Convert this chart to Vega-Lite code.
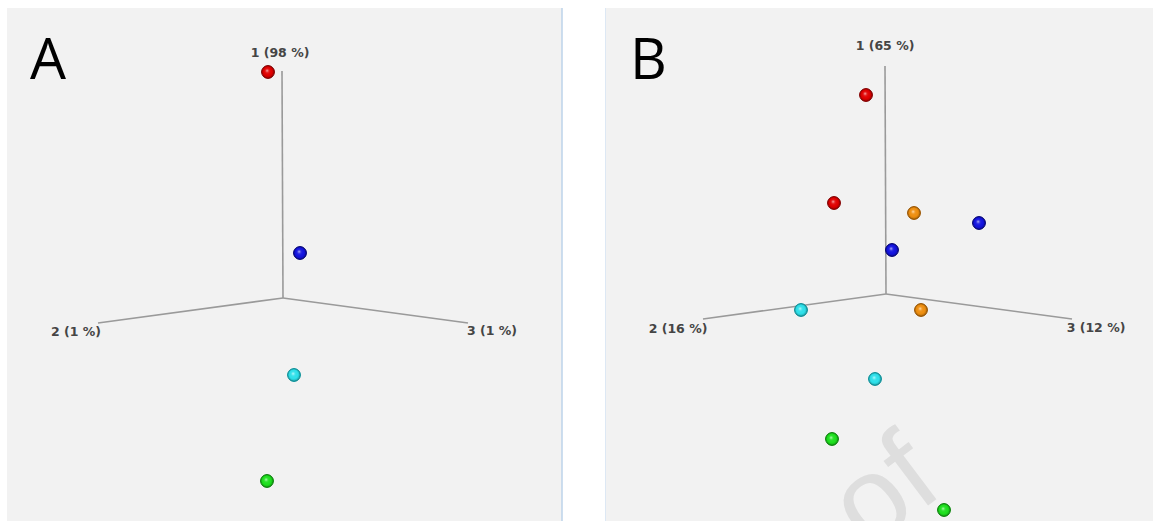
{
  "$schema": "https://vega.github.io/schema/vega-lite/v6.json",
  "background": "white",
  "padding": {"left": 7, "top": 7, "right": 0, "bottom": 0},
  "bounds": "flush",
  "spacing": 43,
  "config": {"view": {"fill": "#f2f2f2", "stroke": null}},
  "resolve": {"scale": {"x": "independent", "y": "independent"}},
  "datasets": {
    "axes": [
      {"panel": "A", "axis": "1", "x": 0, "y": 0, "x2": -1, "y2": 227},
      {"panel": "A", "axis": "2", "x": 0, "y": 0, "x2": -185, "y2": -25},
      {"panel": "A", "axis": "3", "x": 0, "y": 0, "x2": 185, "y2": -25},
      {"panel": "B", "axis": "1", "x": 0, "y": 0, "x2": -1, "y2": 228},
      {"panel": "B", "axis": "2", "x": 0, "y": 0, "x2": -183, "y2": -25},
      {"panel": "B", "axis": "3", "x": 0, "y": 0, "x2": 186, "y2": -25}
    ],
    "labels": [
      {"panel": "A", "text": "1 (98 %)", "x": -3, "y": 245},
      {"panel": "A", "text": "2 (1 %)", "x": -207, "y": -34},
      {"panel": "A", "text": "3 (1 %)", "x": 209, "y": -33},
      {"panel": "B", "text": "1 (65 %)", "x": -1, "y": 248},
      {"panel": "B", "text": "2 (16 %)", "x": -208, "y": -35},
      {"panel": "B", "text": "3 (12 %)", "x": 210, "y": -34}
    ],
    "points": [
      {"panel": "A", "group": "red", "x": -15, "y": 226},
      {"panel": "A", "group": "blue", "x": 17, "y": 45},
      {"panel": "A", "group": "cyan", "x": 11, "y": -77},
      {"panel": "A", "group": "green", "x": -16, "y": -183},
      {"panel": "B", "group": "red", "x": -20, "y": 199},
      {"panel": "B", "group": "red", "x": -52, "y": 91},
      {"panel": "B", "group": "orange", "x": 28, "y": 81},
      {"panel": "B", "group": "blue", "x": 93, "y": 71},
      {"panel": "B", "group": "blue", "x": 6, "y": 44},
      {"panel": "B", "group": "cyan", "x": -85, "y": -16},
      {"panel": "B", "group": "orange", "x": 35, "y": -16},
      {"panel": "B", "group": "cyan", "x": -11, "y": -85},
      {"panel": "B", "group": "green", "x": -54, "y": -145},
      {"panel": "B", "group": "green", "x": 58, "y": -216}
    ],
    "notes": [
      {"panel": "A", "kind": "letter", "text": "A", "x": -253, "y": 219},
      {"panel": "B", "kind": "letter", "text": "B", "x": -256, "y": 215},
      {"panel": "B", "kind": "watermark", "text": "of", "x": 60, "y": -198}
    ]
  },
  "hconcat": [
    {
      "width": 555,
      "height": 514,
      "encoding": {
        "x": {"field": "x", "type": "quantitative", "scale": {"domain": [-276, 279], "nice": false, "zero": false}, "axis": null},
        "y": {"field": "y", "type": "quantitative", "scale": {"domain": [-224, 290], "nice": false, "zero": false}, "axis": null}
      },
      "layer": [
        {
          "data": {"name": "axes"},
          "transform": [{"filter": "datum.panel === 'A'"}],
          "mark": {"type": "rule", "color": "#9a9a9a", "strokeWidth": 1.6},
          "encoding": {"x2": {"field": "x2"}, "y2": {"field": "y2"}}
        },
        {
          "data": {"name": "labels"},
          "transform": [{"filter": "datum.panel === 'A'"}],
          "mark": {"type": "text", "font": "DejaVu Sans", "fontWeight": "bold", "fontSize": 12.5, "color": "#454545", "align": "center", "baseline": "middle"},
          "encoding": {"text": {"field": "text"}}
        },
        {
          "data": {"name": "points"},
          "transform": [{"filter": "datum.panel === 'A'"}],
          "mark": {"type": "circle", "size": 165, "opacity": 1, "strokeWidth": 1},
          "encoding": {
            "color": {"field": "group", "type": "nominal", "legend": null, "scale": {"domain": ["red", "blue", "cyan", "green", "orange"], "range": ["#e60000", "#1414e6", "#2ee6f0", "#1ee61e", "#f5920f"]}},
            "stroke": {"field": "group", "type": "nominal", "legend": null, "scale": {"domain": ["red", "blue", "cyan", "green", "orange"], "range": ["#8a0000", "#00007a", "#0a9aa3", "#0a8a0a", "#a55a00"]}}
          }
        },
        {
          "data": {"name": "points"},
          "transform": [{"filter": "datum.panel === 'A'"}],
          "mark": {"type": "circle", "size": 165, "opacity": 1, "fill": {"gradient": "radial", "x1": 0.42, "y1": 0.38, "r1": 0, "x2": 0.5, "y2": 0.5, "r2": 0.55, "stops": [{"offset": 0, "color": "rgba(255,255,255,0.85)"}, {"offset": 0.22, "color": "rgba(255,255,255,0.15)"}, {"offset": 0.6, "color": "rgba(0,0,0,0)"}, {"offset": 1, "color": "rgba(0,0,0,0.4)"}]}}
        },
        {
          "data": {"name": "notes"},
          "transform": [{"filter": "datum.panel === 'A' && datum.kind === 'letter'"}],
          "mark": {"type": "text", "font": "Open Sans", "fontSize": 57, "color": "#000000", "align": "left", "baseline": "alphabetic"},
          "encoding": {"text": {"field": "text"}}
        },
        {
          "data": {"values": [{}]},
          "mark": {"type": "rule", "color": "#bcd3ea", "strokeWidth": 1.5},
          "encoding": {"x": {"value": "width"}, "y": {"value": 0}, "y2": {"value": "height"}}
        }
      ]
    },
    {
      "width": 548,
      "height": 514,
      "encoding": {
        "x": {"field": "x", "type": "quantitative", "scale": {"domain": [-281, 267], "nice": false, "zero": false}, "axis": null},
        "y": {"field": "y", "type": "quantitative", "scale": {"domain": [-228, 286], "nice": false, "zero": false}, "axis": null}
      },
      "layer": [
        {
          "data": {"name": "notes"},
          "transform": [{"filter": "datum.panel === 'B' && datum.kind === 'watermark'"}],
          "mark": {"type": "text", "font": "Liberation Sans", "fontSize": 118, "color": "#dedede", "align": "right", "baseline": "alphabetic", "angle": -37, "clip": true},
          "encoding": {"text": {"field": "text"}}
        },
        {
          "data": {"name": "axes"},
          "transform": [{"filter": "datum.panel === 'B'"}],
          "mark": {"type": "rule", "color": "#9a9a9a", "strokeWidth": 1.6},
          "encoding": {"x2": {"field": "x2"}, "y2": {"field": "y2"}}
        },
        {
          "data": {"name": "labels"},
          "transform": [{"filter": "datum.panel === 'B'"}],
          "mark": {"type": "text", "font": "DejaVu Sans", "fontWeight": "bold", "fontSize": 12.5, "color": "#454545", "align": "center", "baseline": "middle"},
          "encoding": {"text": {"field": "text"}}
        },
        {
          "data": {"name": "points"},
          "transform": [{"filter": "datum.panel === 'B'"}],
          "mark": {"type": "circle", "size": 165, "opacity": 1, "strokeWidth": 1},
          "encoding": {
            "color": {"field": "group", "type": "nominal", "legend": null, "scale": {"domain": ["red", "blue", "cyan", "green", "orange"], "range": ["#e60000", "#1414e6", "#2ee6f0", "#1ee61e", "#f5920f"]}},
            "stroke": {"field": "group", "type": "nominal", "legend": null, "scale": {"domain": ["red", "blue", "cyan", "green", "orange"], "range": ["#8a0000", "#00007a", "#0a9aa3", "#0a8a0a", "#a55a00"]}}
          }
        },
        {
          "data": {"name": "points"},
          "transform": [{"filter": "datum.panel === 'B'"}],
          "mark": {"type": "circle", "size": 165, "opacity": 1, "fill": {"gradient": "radial", "x1": 0.42, "y1": 0.38, "r1": 0, "x2": 0.5, "y2": 0.5, "r2": 0.55, "stops": [{"offset": 0, "color": "rgba(255,255,255,0.85)"}, {"offset": 0.22, "color": "rgba(255,255,255,0.15)"}, {"offset": 0.6, "color": "rgba(0,0,0,0)"}, {"offset": 1, "color": "rgba(0,0,0,0.4)"}]}}
        },
        {
          "data": {"name": "notes"},
          "transform": [{"filter": "datum.panel === 'B' && datum.kind === 'letter'"}],
          "mark": {"type": "text", "font": "Open Sans", "fontSize": 57, "color": "#000000", "align": "left", "baseline": "alphabetic"},
          "encoding": {"text": {"field": "text"}}
        },
        {
          "data": {"values": [{}]},
          "mark": {"type": "rule", "color": "#dde8f4", "strokeWidth": 1},
          "encoding": {"x": {"value": 0.5}, "y": {"value": 0}, "y2": {"value": "height"}}
        }
      ]
    }
  ]
}
